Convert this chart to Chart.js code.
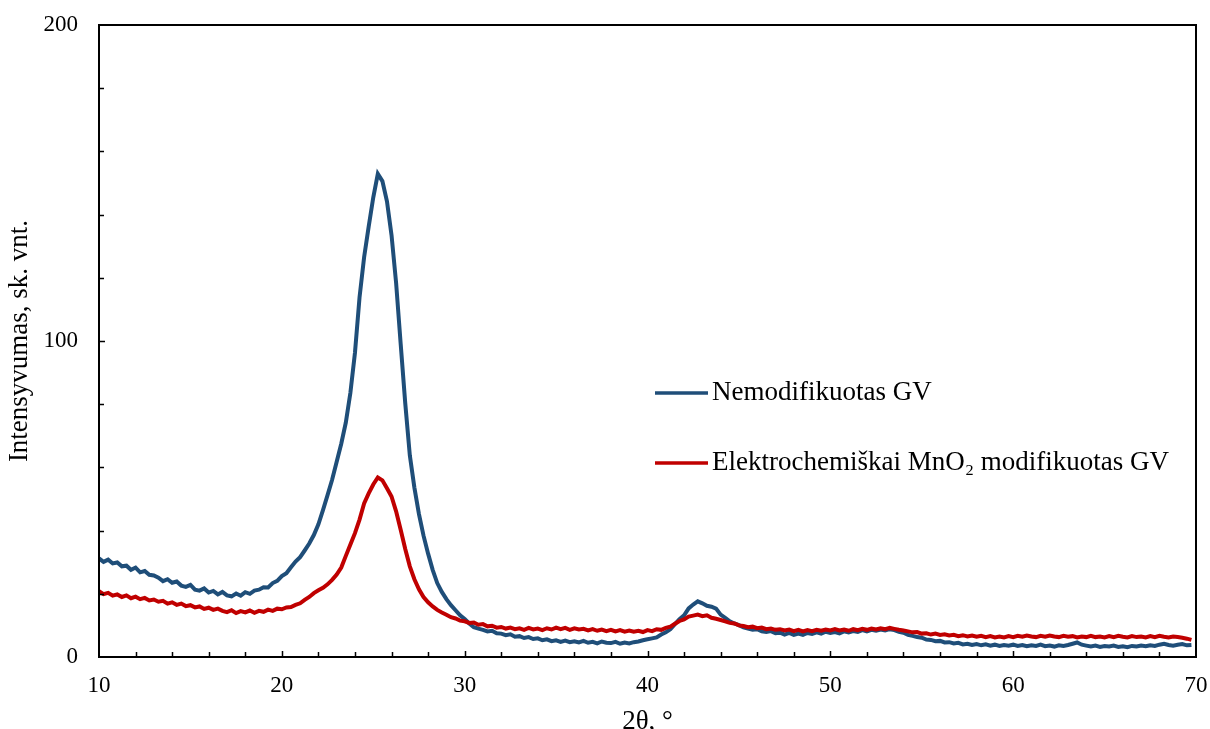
<!DOCTYPE html>
<html>
<head>
<meta charset="utf-8">
<script src="https://cdn.jsdelivr.net/npm/chart.js@4.4.1/dist/chart.umd.min.js"></script>
<style>
  body { margin: 0; background: #fff; }
  #wrap { width: 1210px; height: 729px; }
</style>
</head>
<body>
<div id="wrap"><canvas id="xrdChart" width="1210" height="729"></canvas></div>
<script>
// 2θ kampai, °
const kampai = [
  10, 10.25, 10.5, 10.75, 11, 11.25, 11.5, 11.75, 12, 12.25, 12.5, 12.75, 13, 13.25, 13.5, 13.75, 14, 14.25, 14.5, 14.75,
  15, 15.25, 15.5, 15.75, 16, 16.25, 16.5, 16.75, 17, 17.25, 17.5, 17.75, 18, 18.25, 18.5, 18.75, 19, 19.25, 19.5, 19.75,
  20, 20.25, 20.5, 20.75, 21, 21.25, 21.5, 21.75, 22, 22.25, 22.5, 22.75, 23, 23.25, 23.5, 23.75, 24, 24.25, 24.5, 24.75,
  25, 25.25, 25.5, 25.75, 26, 26.25, 26.5, 26.75, 27, 27.25, 27.5, 27.75, 28, 28.25, 28.5, 28.75, 29, 29.25, 29.5, 29.75,
  30, 30.25, 30.5, 30.75, 31, 31.25, 31.5, 31.75, 32, 32.25, 32.5, 32.75, 33, 33.25, 33.5, 33.75, 34, 34.25, 34.5, 34.75,
  35, 35.25, 35.5, 35.75, 36, 36.25, 36.5, 36.75, 37, 37.25, 37.5, 37.75, 38, 38.25, 38.5, 38.75, 39, 39.25, 39.5, 39.75,
  40, 40.25, 40.5, 40.75, 41, 41.25, 41.5, 41.75, 42, 42.25, 42.5, 42.75, 43, 43.25, 43.5, 43.75, 44, 44.25, 44.5, 44.75,
  45, 45.25, 45.5, 45.75, 46, 46.25, 46.5, 46.75, 47, 47.25, 47.5, 47.75, 48, 48.25, 48.5, 48.75, 49, 49.25, 49.5, 49.75,
  50, 50.25, 50.5, 50.75, 51, 51.25, 51.5, 51.75, 52, 52.25, 52.5, 52.75, 53, 53.25, 53.5, 53.75, 54, 54.25, 54.5, 54.75,
  55, 55.25, 55.5, 55.75, 56, 56.25, 56.5, 56.75, 57, 57.25, 57.5, 57.75, 58, 58.25, 58.5, 58.75, 59, 59.25, 59.5, 59.75,
  60, 60.25, 60.5, 60.75, 61, 61.25, 61.5, 61.75, 62, 62.25, 62.5, 62.75, 63, 63.25, 63.5, 63.75, 64, 64.25, 64.5, 64.75,
  65, 65.25, 65.5, 65.75, 66, 66.25, 66.5, 66.75, 67, 67.25, 67.5, 67.75, 68, 68.25, 68.5, 68.75, 69, 69.25, 69.5, 69.75
];

// Nemodifikuotas GV
const nemodifikuotas = [
  31.2, 30.1, 30.8, 29.6, 29.9, 28.7, 28.9, 27.6, 28.3, 26.8, 27.2, 26.0, 25.8, 25.1, 24.0, 24.6, 23.5, 23.9, 22.6, 22.2,
  22.8, 21.3, 21.0, 21.7, 20.4, 20.9, 19.8, 20.6, 19.5, 19.2, 20.1, 19.4, 20.5, 20.0, 21.0, 21.3, 22.1, 22.0, 23.4, 24.1,
  25.6, 26.5, 28.4, 30.2, 31.6, 33.7, 35.9, 38.6, 42.0, 46.5, 51.2, 56.1, 61.8, 67.5, 74.2, 83.6, 96.3, 113.8, 126.5, 136.2,
  145.4, 152.9, 150.6, 144.2, 133.5, 118.4, 99.1, 80.3, 63.8, 53.6, 45.2, 38.4, 32.7, 27.6, 23.4, 20.6, 18.3, 16.4, 14.8, 13.2,
  12.0, 10.6, 9.4, 9.0, 8.6, 8.1, 8.3, 7.5, 7.4, 6.9, 7.2, 6.4, 6.6, 6.0, 6.3, 5.7, 5.9, 5.3, 5.6, 5.0,
  5.3, 4.8, 5.2, 4.7, 5.0, 4.6, 5.1, 4.5, 4.8, 4.3, 4.9, 4.5, 4.4, 4.8, 4.2, 4.6, 4.3, 4.7, 4.9, 5.3,
  5.6, 5.9, 6.2, 7.1, 7.8, 8.8, 10.4, 12.0, 13.2, 15.4, 16.6, 17.6, 17.0, 16.2, 15.9, 15.3, 13.4, 12.4, 11.3, 10.6,
  10.1, 9.4, 9.0, 8.6, 8.8, 8.1, 7.9, 8.2, 7.5, 7.7, 7.1, 7.6, 7.0, 7.4, 7.0, 7.6, 7.3, 7.8, 7.4, 8.0,
  7.6, 7.9, 7.5, 8.1, 7.8, 8.2, 7.9, 8.5, 8.1, 8.6, 8.3, 8.7, 8.4, 8.8, 8.5, 8.0, 7.7, 7.0, 6.7, 6.3,
  6.1, 5.5, 5.4, 5.0, 5.1, 4.6, 4.7, 4.3, 4.5, 4.0, 4.2, 3.8, 4.1, 3.7, 4.0, 3.6, 3.9, 3.5, 3.8, 3.6,
  3.9, 3.5, 3.8, 3.4, 3.7, 3.5, 3.9, 3.4, 3.6, 3.3, 3.7, 3.5, 3.8, 4.2, 4.6, 3.9, 3.6, 3.3, 3.6, 3.2,
  3.5, 3.3, 3.6, 3.2, 3.4, 3.1, 3.5, 3.3, 3.6, 3.4, 3.7, 3.5, 3.9, 4.2, 3.8, 3.6, 3.9, 4.1, 3.7, 3.8
];

// Elektrochemiškai MnO2 modifikuotas GV
const modifikuotas = [
  20.8, 19.9, 20.3, 19.4, 19.8, 19.0, 19.5, 18.6, 19.1, 18.3, 18.7, 17.9, 18.2, 17.5, 17.8, 16.9, 17.3, 16.5, 16.9, 16.1,
  16.4, 15.7, 16.0, 15.2, 15.6, 14.9, 15.3, 14.6, 14.2, 14.8, 13.9, 14.5, 14.1, 14.7, 14.0, 14.6, 14.3, 15.0, 14.6, 15.3,
  15.1, 15.7, 15.8, 16.5, 17.0, 18.1, 19.0, 20.2, 21.1, 21.9, 23.0, 24.4, 26.1, 28.3, 32.0, 35.6, 39.2, 43.5, 48.6, 51.8,
  54.6, 56.8, 55.9, 53.4, 50.8, 46.1, 40.3, 34.2, 28.7, 24.6, 21.4, 19.0, 17.3, 16.0, 14.9, 14.1, 13.4, 12.6, 12.2, 11.5,
  11.3, 10.8, 10.9, 10.2, 10.4, 9.7, 9.9, 9.3, 9.5, 9.0, 9.3, 8.8, 9.1, 8.6, 9.2, 8.7, 9.0, 8.5, 9.1, 8.7,
  9.3, 8.8, 9.2, 8.6, 9.1, 8.7, 8.9, 8.4, 8.8, 8.3, 8.7, 8.2, 8.6, 8.1, 8.5, 8.0, 8.4, 8.0, 8.3, 7.9,
  8.5, 8.2, 8.8, 8.6, 9.2, 9.6, 10.5, 11.4, 11.9, 12.8, 13.1, 13.4, 12.9, 13.2, 12.4, 12.1, 11.7, 11.3, 10.8, 10.6,
  10.0, 9.8, 9.4, 9.6, 9.1, 9.3, 8.8, 9.0, 8.6, 8.8, 8.4, 8.7, 8.2, 8.6, 8.1, 8.5, 8.2, 8.6, 8.3, 8.7,
  8.4, 8.8, 8.4, 8.7, 8.3, 8.8, 8.5, 8.9, 8.6, 9.0, 8.7, 9.1, 8.8, 9.2, 8.9, 8.6, 8.4, 8.1, 7.8, 7.9,
  7.4, 7.5, 7.1, 7.4, 7.0, 7.2, 6.8, 7.0, 6.6, 6.9, 6.5, 6.8, 6.4, 6.7, 6.3, 6.6, 6.2, 6.5, 6.2, 6.6,
  6.3, 6.7, 6.4, 6.8, 6.5, 6.3, 6.7, 6.4, 6.8, 6.5, 6.3, 6.7, 6.4, 6.6, 6.2, 6.5, 6.3, 6.7, 6.3, 6.5,
  6.2, 6.6, 6.3, 6.7, 6.4, 6.2, 6.6, 6.3, 6.5, 6.2, 6.6, 6.3, 6.7, 6.4, 6.2, 6.5, 6.3, 6.1, 5.8, 5.4
];

const xTickLabels = [10, 20, 30, 40, 50, 60, 70];
const yTickLabels = [0, 100, 200];

const SERIF = "'Liberation Serif', 'Times New Roman', serif";
const TICK_SIZE = 23;
const TEXT_SIZE = 27;

function taskai(ys) {
    return kampai.map((x, i) => ({ x: x, y: ys[i] }));
}

// Ašys neturi keisti grafiko ploto
function nulinisPaddingas(scale) {
    scale.paddingTop = 0;
    scale.paddingBottom = 0;
    scale.paddingLeft = 0;
    scale.paddingRight = 0;
}

// Rėmelis ir vidinės žymos
const remelisPlugin = {
    id: 'remelis',
    afterDatasetsDraw(chart) {
        const { ctx, chartArea: a, scales } = chart;
        ctx.save();
        ctx.strokeStyle = '#000';
        ctx.lineWidth = 2;
        ctx.strokeRect(a.left, a.top, a.right - a.left, a.bottom - a.top);
        ctx.lineWidth = 1.5;
        ctx.beginPath();
        for (let v = 12; v < 70; v += 2) {
            const px = Math.round(scales.x.getPixelForValue(v)) + 0.5;
            const len = v % 10 === 0 ? 6 : 5;
            ctx.moveTo(px, a.bottom);
            ctx.lineTo(px, a.bottom - len);
        }
        for (let v = 20; v < 200; v += 20) {
            const py = Math.round(scales.y.getPixelForValue(v)) + 0.5;
            const len = v % 100 === 0 ? 6 : 5;
            ctx.moveTo(a.left, py);
            ctx.lineTo(a.left + len, py);
        }
        ctx.stroke();
        ctx.restore();
    }
};

// Legenda grafiko viduje
const legendaPlugin = {
    id: 'legenda',
    afterDraw(chart) {
        const { ctx } = chart;
        const eilutes = [393, 463];
        ctx.save();
        ctx.font = TEXT_SIZE + 'px ' + SERIF;
        ctx.textBaseline = 'middle';
        ctx.fillStyle = '#000';
        chart.data.datasets.forEach((ds, i) => {
            const y = eilutes[i];
            ctx.strokeStyle = ds.borderColor;
            ctx.lineWidth = 3.5;
            ctx.beginPath();
            ctx.moveTo(655, y);
            ctx.lineTo(708, y);
            ctx.stroke();
            ctx.fillText(ds.label, 712, y);
        });
        ctx.restore();
    }
};

const config = {
    type: 'line',
    data: {
        datasets: [
            {
                label: 'Nemodifikuotas GV',
                data: taskai(nemodifikuotas),
                borderColor: '#1F4E79',
                borderWidth: 4,
                pointRadius: 0,
                tension: 0,
                order: 2
            },
            {
                label: 'Elektrochemiškai MnO₂ modifikuotas GV',
                data: taskai(modifikuotas),
                borderColor: '#C00000',
                borderWidth: 4,
                pointRadius: 0,
                tension: 0,
                order: 1
            }
        ]
    },
    options: {
        responsive: false,
        animation: false,
        layout: { padding: { top: 25, right: 14, left: 0, bottom: 0 } },
        plugins: {
            legend: { display: false },
            tooltip: { enabled: false }
        },
        scales: {
            x: {
                type: 'linear',
                min: 10,
                max: 70,
                grid: { display: false, drawTicks: false },
                border: { display: false },
                afterFit(scale) {
                    scale.height = 72;
                    nulinisPaddingas(scale);
                },
                ticks: {
                    stepSize: 2,
                    autoSkip: false,
                    maxRotation: 0,
                    padding: 15,
                    color: '#000',
                    font: { family: SERIF, size: TICK_SIZE },
                    callback: (v) => xTickLabels.includes(v) ? String(v) : ''
                },
                title: {
                    display: true,
                    text: '2θ, °',
                    color: '#000',
                    font: { family: SERIF, size: TEXT_SIZE },
                    padding: { top: 0, bottom: -9 }
                }
            },
            y: {
                min: 0,
                max: 200,
                grid: { display: false, drawTicks: false },
                border: { display: false },
                afterFit(scale) {
                    scale.width = 99;
                    nulinisPaddingas(scale);
                },
                ticks: {
                    stepSize: 20,
                    autoSkip: false,
                    padding: 21,
                    color: '#000',
                    font: { family: SERIF, size: TICK_SIZE },
                    callback: (v) => yTickLabels.includes(v) ? String(v) : ''
                },
                title: {
                    display: true,
                    text: 'Intensyvumas, sk. vnt.',
                    color: '#000',
                    font: { family: SERIF, size: TEXT_SIZE },
                    padding: { top: 4, bottom: 0 }
                }
            }
        }
    },
    plugins: [remelisPlugin, legendaPlugin]
};

new Chart(document.querySelector('#xrdChart'), config);
</script>
</body>
</html>
